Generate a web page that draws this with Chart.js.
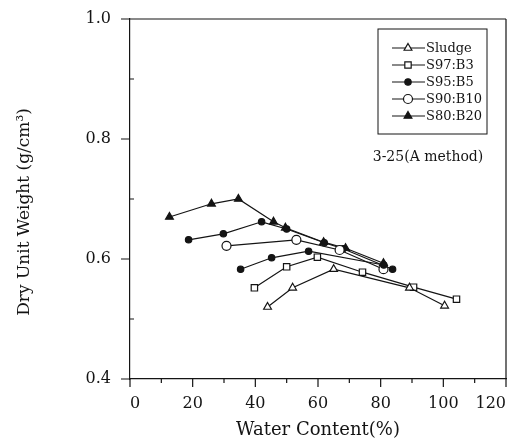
<!DOCTYPE html>
<html>
<head>
<meta charset="utf-8">
<script src="https://cdn.jsdelivr.net/npm/chart.js@4/dist/chart.umd.min.js"></script>
<style>
html,body{margin:0;padding:0;background:#fff;}
#wrap{width:515px;height:442px;position:relative;}
</style>
</head>
<body>
<div id="wrap"><canvas id="c" width="515" height="442"></canvas></div>
<script>
// ---- data ----
const sludgeX = [43.9, 51.9, 65.0, 89.2, 100.4];
const sludgeY = [0.520, 0.552, 0.583, 0.552, 0.522];
const s97X = [39.7, 50.0, 59.8, 74.2, 90.5, 104.2];
const s97Y = [0.552, 0.587, 0.603, 0.578, 0.553, 0.533];
const s95X = [35.3, 45.2, 57.0, 81.0];
const s95Y = [0.583, 0.602, 0.613, 0.590];
const s95bX = [18.7, 29.8, 42.0, 50.0, 62.0, 68.0, 83.8];
const s95bY = [0.632, 0.642, 0.662, 0.650, 0.627, 0.617, 0.583];
const s90X = [30.8, 53.1, 66.9, 80.9];
const s90Y = [0.622, 0.632, 0.615, 0.583];
const s80X = [12.6, 26.0, 34.6, 45.8, 49.6, 61.8, 68.8, 80.9];
const s80Y = [0.670, 0.692, 0.700, 0.662, 0.652, 0.628, 0.618, 0.593];
const xTicks = [0, 20, 40, 60, 80, 100, 120];
const yTicks = [0.4, 0.6, 0.8, 1.0];
const legendLabels = ["Sludge", "S97:B3", "S95:B5", "S90:B10", "S80:B20"];
const noteText = "3-25(A method)";
const yTitle = "Dry Unit Weight (g/cm³)";
const xTitle = "Water Content(%)";

const INK = '#141414';
const SERIF = '"DejaVu Serif","Liberation Serif",serif';
const pts = (xs, ys) => xs.map((x, i) => ({x: x, y: ys[i]}));

function ds(label, xs, ys, style, filled, r) {
  return {
    label: label, data: pts(xs, ys), showLine: true,
    borderColor: INK, borderWidth: 1.2,
    pointStyle: style, pointRadius: r, pointHoverRadius: r,
    pointBackgroundColor: filled ? INK : '#fff',
    pointBorderColor: INK, pointBorderWidth: 1.2,
    fill: false, tension: 0
  };
}

const datasets = [
  ds(legendLabels[0], sludgeX, sludgeY, 'triangle', false, 4.5),
  ds(legendLabels[1], s97X, s97Y, 'rect', false, 4.5),
  ds(legendLabels[2], s95X, s95Y, 'circle', true, 3.2),
  ds(legendLabels[3], s90X, s90Y, 'circle', false, 4.5),
  ds(legendLabels[4], s80X, s80Y, 'triangle', true, 4.5),
  ds('', s95bX, s95bY, 'circle', true, 3.2)
];

const framePlugin = {
  id: 'frame',
  afterDraw(chart) {
    const ctx = chart.ctx, a = chart.chartArea;
    const xs = chart.scales.x, ys = chart.scales.y;
    ctx.save();
    ctx.strokeStyle = INK; ctx.lineWidth = 1.2;
    ctx.beginPath();
    ctx.moveTo(a.left, a.top); ctx.lineTo(a.right, a.top);
    ctx.moveTo(a.right, a.top); ctx.lineTo(a.right, a.bottom);
    ctx.stroke();
    ctx.beginPath();
    for (let v = 0; v <= 120; v += 10) {
      const px = xs.getPixelForValue(v);
      const major = v % 20 === 0;
      ctx.moveTo(px, a.bottom);
      ctx.lineTo(px, a.bottom + (major ? 8 : 4));
    }
    for (let k = 0; k <= 6; k++) {
      const v = 0.4 + k * 0.1;
      const py = ys.getPixelForValue(v);
      if (k % 2 === 0) { ctx.moveTo(a.left - 9, py); ctx.lineTo(a.left, py); }
      else { ctx.moveTo(a.left, py); ctx.lineTo(a.left + 4, py); }
    }
    ctx.stroke();

    // y axis title (placed as in the reference, slightly below centre)
    ctx.fillStyle = INK;
    ctx.font = '17px ' + SERIF;
    ctx.textAlign = 'center'; ctx.textBaseline = 'middle';
    ctx.save();
    ctx.translate(25, 212);
    ctx.rotate(-Math.PI / 2);
    ctx.fillText(yTitle, 0, 0);
    ctx.restore();

    // legend box
    const bx = 378, by = 29, bw = 109, bh = 105;
    ctx.lineWidth = 1;
    ctx.strokeRect(bx, by, bw, bh);
    ctx.font = '13px ' + SERIF;
    ctx.textBaseline = 'middle';
    ctx.textAlign = 'left';
    const rows = [48, 65, 82, 99, 116];
    legendLabels.forEach((lab, i) => {
      const d = chart.data.datasets[i];
      const y = rows[i];
      ctx.strokeStyle = INK; ctx.lineWidth = 1.2;
      ctx.beginPath(); ctx.moveTo(392, y); ctx.lineTo(425, y); ctx.stroke();
      ctx.fillStyle = d.pointBackgroundColor;
      ctx.strokeStyle = INK;
      Chart.helpers.drawPoint(ctx, {pointStyle: d.pointStyle, radius: d.pointRadius, rotation: 0, borderWidth: 1.2}, 408, y);
      ctx.fillStyle = INK;
      ctx.fillText(lab, 426, y + 1);
    });
    ctx.font = '14px ' + SERIF;
    ctx.textAlign = 'center';
    ctx.fillText(noteText, 428, 157);
    ctx.restore();
  }
};

new Chart(document.getElementById('c'), {
  type: 'scatter',
  data: {datasets: datasets},
  options: {
    responsive: false, animation: false,
    layout: {padding: {top: 19, right: 9, left: 0, bottom: 0}},
    plugins: {legend: {display: false}, tooltip: {enabled: false}},
    scales: {
      x: {
        type: 'linear', min: 0, max: 120,
        afterBuildTicks(s) { s.ticks = xTicks.map(v => ({value: v})); },
        afterFit(s) { s.height = 63; s.paddingLeft = 0; s.paddingRight = 0; },
        grid: {display: false, drawTicks: false},
        border: {display: true, color: INK, width: 1.2},
        ticks: {padding: 15, align: 'inner', color: INK, font: {family: SERIF, size: 16}, callback: v => String(v)},
        title: {display: true, text: xTitle, color: INK, font: {family: SERIF, size: 18}, padding: {top: 0, bottom: 1}}
      },
      y: {
        type: 'linear', min: 0.4, max: 1.0,
        afterBuildTicks(s) { s.ticks = yTicks.map(v => ({value: v})); },
        afterFit(s) { s.width = 130; s.paddingTop = 0; s.paddingBottom = 0; },
        grid: {display: false, drawTicks: false},
        border: {display: true, color: INK, width: 1.2},
        ticks: {padding: 19, color: INK, font: {family: SERIF, size: 16}, callback: v => v.toFixed(1)},
        title: {display: false}
      }
    }
  },
  plugins: [framePlugin]
});
</script>
</body>
</html>
